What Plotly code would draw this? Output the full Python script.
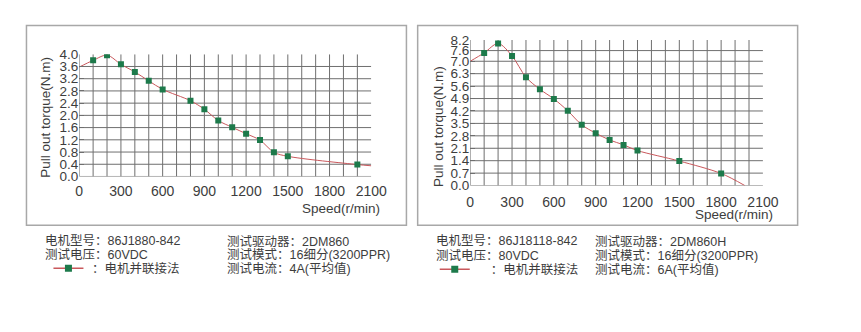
import plotly.graph_objects as go

# ---- data: pull-out torque curves (speed in r/min, torque in N.m) ----
speed_a = [100, 200, 300, 400, 500, 600, 800, 900, 1000, 1100, 1200, 1300, 1400, 1500, 2000]
torque_a = [3.80, 3.97, 3.67, 3.42, 3.13, 2.85, 2.48, 2.20, 1.83, 1.61, 1.40, 1.19, 0.79, 0.66, 0.39]
curve_a_start = (0, 3.58)
curve_a_end = (2100, 0.35)

speed_b = [100, 200, 300, 400, 500, 600, 700, 800, 900, 1000, 1100, 1200, 1500, 1800]
torque_b = [7.47, 8.00, 7.30, 6.10, 5.42, 4.88, 4.21, 3.42, 2.95, 2.57, 2.29, 1.97, 1.38, 0.68]
curve_b_start = (0, 7.0)
curve_b_end = (1970, 0.0)

x_ticks = [0, 300, 600, 900, 1200, 1500, 1800, 2100]
y_ticks_a = [0.0, 0.4, 0.8, 1.2, 1.6, 2.0, 2.4, 2.8, 3.2, 3.6, 4.0]
y_ticks_b = [0.0, 0.7, 1.4, 2.1, 2.8, 3.5, 4.2, 4.9, 5.6, 6.3, 7.0, 7.6, 8.2]

info_a = [
    ["电机型号：86J1880-842", "测试驱动器：2DM860"],
    ["测试电压：60VDC", "测试模式：16细分(3200PPR)"],
    [None, "测试电流：4A(平均值)"],
]
info_b = [
    ["电机型号：86J18118-842", "测试驱动器：2DM860H"],
    ["测试电压：80VDC", "测试模式：16细分(3200PPR)"],
    [None, "测试电流：6A(平均值)"],
]
legend_a = "\u00a0：电机并联接法"
legend_b = "\u3000\u00a0：电机并联接法"

# ---- styling ----
W, H = 861, 332
LINE_C = "#c9585c"
MARK_C = "#1d7a4b"
GRID_C = "#6f6f6f"
TEXT_C = "#3d3d3d"
BOX_C = "#a8a8a8"
LATIN = "Liberation Sans, Arial, Noto Sans CJK SC"
CJK = "Liberation Sans, Noto Sans CJK SC"


def px(x):
    return x / W


def py(y):
    return 1 - y / H


fig = go.Figure()

panels = [
    dict(xa="x", ya="y", speed=speed_a, torque=torque_a, start=curve_a_start, end=curve_a_end,
         yticks=y_ticks_a, legend="legend", legend_text=legend_a,
         xdom=(77, 376), ydom=(177.5, 49.5)),
    dict(xa="x2", ya="y2", speed=speed_b, torque=torque_b, start=curve_b_start, end=curve_b_end,
         yticks=y_ticks_b, legend="legend2", legend_text=legend_b,
         xdom=(477.3, 777), ydom=(187, 34.5)),
]

shapes = []
for p in panels:
    xs = [p["start"][0]] + p["speed"] + [p["end"][0]]
    ys = [p["start"][1]] + p["torque"] + [p["end"][1]]
    # smooth curve through the measured points
    fig.add_trace(go.Scatter(x=xs, y=ys, mode="lines", xaxis=p["xa"], yaxis=p["ya"],
                             line=dict(color=LINE_C, width=1, shape="spline", smoothing=0.9),
                             showlegend=False, hoverinfo="skip"))
    # measured points
    fig.add_trace(go.Scatter(x=p["speed"], y=p["torque"], mode="markers",
                             xaxis=p["xa"], yaxis=p["ya"], showlegend=False,
                             marker=dict(color=MARK_C, size=6, symbol="square")))
    # legend entry: curve colour with the square point marker
    fig.add_trace(go.Scatter(x=[None], y=[None], mode="lines+markers",
                             xaxis=p["xa"], yaxis=p["ya"], name=p["legend_text"],
                             legend=p["legend"], showlegend=True,
                             line=dict(color=LINE_C, width=1.5),
                             marker=dict(color=MARK_C, size=7, symbol="square")))

    ymax = p["yticks"][-1]
    xmax = x_ticks[-1]
    xr = p["xa"]
    yr = p["ya"]
    # vertical grid every 100 r/min
    for v in range(0, xmax, 100):
        shapes.append(dict(type="line", xref=xr, yref=yr, x0=v, x1=v, y0=0, y1=ymax,
                           line=dict(color=GRID_C, width=1), layer="below"))
    # horizontal grid at each torque tick below the top
    for t in p["yticks"][:-1]:
        shapes.append(dict(type="line", xref=xr, yref=yr, x0=0, x1=xmax, y0=t, y1=t,
                           line=dict(color=GRID_C, width=1), layer="below"))

# panel frames
for x0, x1 in [(23, 412), (423.5, 812.5)]:
    shapes.append(dict(type="rect", xref="paper", yref="paper",
                       x0=px(x0), x1=px(x1), y0=py(228.5), y1=py(19.3),
                       line=dict(color=BOX_C, width=1.5), fillcolor="rgba(0,0,0,0)"))

annotations = []
for (tx, ty), (sx, sy) in [((43, 116), (387, 211.5)), ((445, 125), (789, 217.5))]:
    annotations.append(dict(x=px(tx), y=py(ty), xref="paper", yref="paper",
                            xanchor="center", yanchor="middle",
                            text="Pull out torque(N.m)", textangle=-90, showarrow=False,
                            font=dict(family=LATIN, size=13.5, color=TEXT_C)))
    annotations.append(dict(x=px(sx), y=py(sy), xref="paper", yref="paper",
                            xanchor="right", yanchor="middle",
                            text="Speed(r/min)", showarrow=False,
                            font=dict(family=LATIN, size=13.5, color=TEXT_C)))

rows_y_a = [245.5, 259.5, 274]
rows_y_b = [245.5, 260, 275]
for info, cols, rows in [(info_a, (40.7, 227.7), rows_y_a), (info_b, (441.7, 604), rows_y_b)]:
    for r, row in enumerate(info):
        for c, txt in enumerate(row):
            if txt is None:
                continue
            annotations.append(dict(x=px(cols[c]), y=py(rows[r]), xref="paper", yref="paper",
                                    xanchor="left", yanchor="middle", text=txt,
                                    showarrow=False, borderpad=0,
                                    font=dict(family=CJK, size=12.5, color=TEXT_C)))

layout = dict(
    width=W, height=H, margin=dict(l=0, r=0, t=0, b=0),
    paper_bgcolor="white", plot_bgcolor="white",
    shapes=shapes, annotations=annotations,
    legend=dict(x=px(45.5), y=py(274), xanchor="left", yanchor="middle",
                bgcolor="rgba(0,0,0,0)", borderwidth=0,
                font=dict(family=CJK, size=12.5, color=TEXT_C)),
    legend2=dict(x=px(441), y=py(275), xanchor="left", yanchor="middle",
                 bgcolor="rgba(0,0,0,0)", borderwidth=0,
                 font=dict(family=CJK, size=12.5, color=TEXT_C)),
)

standoffs = [5, 6]
for i, p in enumerate(panels):
    sfx = "" if i == 0 else str(i + 1)
    layout["xaxis" + sfx] = dict(
        domain=[px(p["xdom"][0]), px(p["xdom"][1])], range=[0, x_ticks[-1]],
        anchor="y" + sfx, tickvals=x_ticks, ticktext=[str(v) for v in x_ticks],
        showgrid=False, zeroline=False, showline=False, ticks="",
        ticklabelstandoff=standoffs[i],
        tickfont=dict(family=LATIN, size=14, color=TEXT_C), fixedrange=True)
    layout["yaxis" + sfx] = dict(
        domain=[py(p["ydom"][0]), py(p["ydom"][1])], range=[0, p["yticks"][-1]],
        anchor="x" + sfx, tickvals=p["yticks"], ticktext=[f"{v:.1f}" for v in p["yticks"]],
        showgrid=False, zeroline=False, showline=False,
        ticks="inside", ticklen=5, tickcolor=GRID_C, tickwidth=1,
        tickfont=dict(family=LATIN, size=13.5, color=TEXT_C), fixedrange=True)

fig.update_layout(**layout)
fig.write_html("out.html")
